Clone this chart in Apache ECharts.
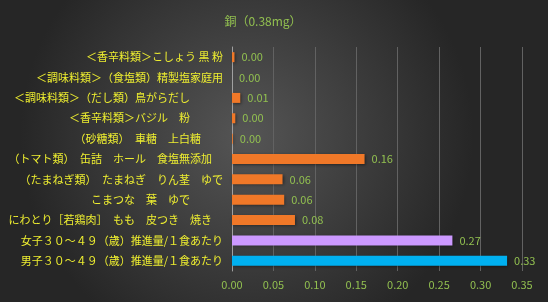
<!doctype html>
<html lang="ja">
<head>
    <meta charset="UTF-8">
    <title>銅</title>
    <script src="https://cdn.jsdelivr.net/npm/echarts@6/dist/echarts.min.js"></script>
    <style>
        html, body { margin: 0; padding: 0; background: #333; }
    </style>
</head>
<body>

<div id="chart" style="width: 548px;height: 302px;"></div>
<script type="text/javascript">
    // bottom to top, as the category axis draws them
    let categories = [
        '男子３０～４９（歳）推進量/１食あたり',
        '女子３０～４９（歳）推進量/１食あたり',
        'にわとり［若鶏肉］　もも　皮つき　焼き　',
        'こまつな　葉　ゆで　　　',
        '（たまねぎ類）　たまねぎ　りん茎　ゆで',
        '（トマト類）　缶詰　ホール　食塩無添加　',
        '（砂糖類）　車糖　上白糖　　',
        '＜香辛料類＞バジル　粉　　　',
        '＜調味料類＞（だし類）鳥がらだし　　　',
        '＜調味料類＞（食塩類）精製塩家庭用',
        '＜香辛料類＞こしょう 黒 粉'
    ];
    let values = [0.332, 0.266, 0.076, 0.063, 0.061, 0.16, 0.001, 0.004, 0.01, 0, 0.003];
    let barColors = ['#00b0f0', '#cc99ff', '#f07828', '#f07828', '#f07828', '#f07828',
        '#f07828', '#f07828', '#f07828', '#f07828', '#f07828'];
    let xTicks = [0, 0.05, 0.1, 0.15, 0.2, 0.25, 0.3, 0.35];

    let seriesData = values.map(function (v, i) {
        return {value: v, itemStyle: {color: barColors[i]}};
    });

    let green = '#92c050';
    let font = '"Noto Sans CJK JP", sans-serif';

    let newChart = echarts.init(document.getElementById("chart"));
    newChart.setOption({
        animation: false,
        backgroundColor: {
            type: 'radial', x: 0.45, y: 0.45, r: 0.75,
            colorStops: [
                {offset: 0, color: '#555555'},
                {offset: 1, color: '#262626'}
            ]
        },
        title: {
            text: '銅（0.38mg）',
            left: 258,
            textAlign: 'center',
            top: 10,
            textStyle: {color: green, fontSize: 12, fontWeight: 'normal', fontFamily: font}
        },
        grid: {left: 232, right: 26, top: 47, bottom: 31, containLabel: false},
        xAxis: {
            type: 'value',
            min: 0,
            max: xTicks[xTicks.length - 1],
            interval: 0.05,
            axisLine: {show: false},
            axisTick: {show: false},
            splitLine: {lineStyle: {color: '#626262', width: 1}},
            axisLabel: {
                color: green, fontSize: 11, fontFamily: font, margin: 8,
                formatter: function (v) { return v.toFixed(2); }
            }
        },
        yAxis: {
            type: 'category',
            data: categories,
            axisLine: {lineStyle: {color: '#a0a0a0'}},
            axisTick: {show: false},
            axisLabel: {color: '#eeee30', fontSize: 11, fontFamily: font, margin: 9}
        },
        series: [
            {
                type: 'bar',
                data: seriesData,
                barWidth: 10,
                itemStyle: {
                    shadowColor: 'rgba(0,0,0,0.45)',
                    shadowBlur: 3,
                    shadowOffsetX: 1,
                    shadowOffsetY: 1
                },
                label: {
                    show: true,
                    position: 'right',
                    distance: 7,
                    color: green,
                    fontSize: 11,
                    fontFamily: font,
                    formatter: function (p) { return p.value.toFixed(2); }
                }
            }
        ]
    });
</script>
</body>
</html>
